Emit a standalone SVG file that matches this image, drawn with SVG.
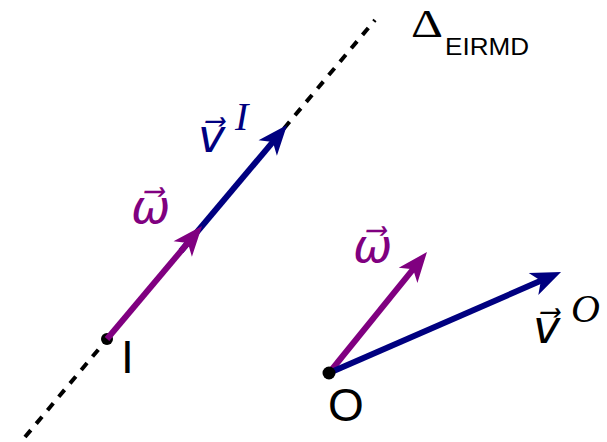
<svg xmlns="http://www.w3.org/2000/svg" width="607" height="442" viewBox="0 0 607 442">
  <style>
    .axis { stroke: #000; stroke-width: 4; stroke-dasharray: 9 8.5; fill: none; }
    .vec { stroke-width: 6; fill: none; }
    .purple { stroke: #800080; }
    .blue { stroke: #000080; }
    .sans { font-family: "Liberation Sans", Arial, sans-serif; fill: #000; }
    .math { font-family: "DejaVu Sans", "Liberation Serif", serif; font-style: italic; }
    .sup { font-family: "Liberation Serif", "Times New Roman", serif; font-style: italic; }
    .cp { fill: #800080; }
    .cb { fill: #000080; }
    .ck { fill: #000; }
  </style>
  <defs>
    <marker id="headP" markerUnits="userSpaceOnUse" orient="auto" refX="0" refY="0" markerWidth="40" markerHeight="30" viewBox="-12 -15 40 30" overflow="visible">
      <path d="M19,0 L-11,-12 L-3,0 L-11,12 Z" fill="#800080"/>
    </marker>
    <marker id="headB" markerUnits="userSpaceOnUse" orient="auto" refX="0" refY="0" markerWidth="40" markerHeight="30" viewBox="-12 -15 40 30" overflow="visible">
      <path d="M19,0 L-11,-12 L-3,0 L-11,12 Z" fill="#000080"/>
    </marker>
  </defs>

  <g id="axis-EIRMD">
    <line class="axis" x1="25" y1="437" x2="375" y2="20"/>
  </g>

  <g id="point-I">
    <circle cx="107" cy="339" r="6" fill="#000"/>
  </g>

  <g id="connectors">
    <line id="vec-vI" class="vec blue" x1="181" y1="251" x2="274.8" y2="139.6" marker-end="url(#headB)"/>
    <line id="vec-omega-I" class="vec purple" x1="107" y1="339" x2="189.8" y2="240.6" marker-end="url(#headP)"/>
    <line id="vec-omega-O" class="vec purple" x1="329" y1="373" x2="415" y2="266.8" marker-end="url(#headP)"/>
    <line id="vec-vO" class="vec blue" x1="329" y1="373" x2="543.6" y2="279.6" marker-end="url(#headB)"/>
  </g>

  <g id="point-O">
    <circle cx="329" cy="373" r="6.5" fill="#000"/>
  </g>

  <g id="labels">
    <text class="sans" x="121" y="373" font-size="46">I</text>
    <text class="sans" x="328" y="421" font-size="46">O</text>
    <g id="label-delta">
      <text x="411" y="36.5" font-family="Liberation Serif, serif" font-size="41" textLength="32" lengthAdjust="spacingAndGlyphs" fill="#000">Δ</text>
      <text class="sans" x="445" y="55" font-size="24.5" textLength="84" lengthAdjust="spacingAndGlyphs">EIRMD</text>
    </g>
    <g id="label-vI">
      <text class="math cb" font-size="46"><tspan x="198" y="152">v⃗</tspan><tspan class="sup" x="235" y="130" font-size="40">I</tspan></text>
    </g>
    <g id="label-omega-I">
      <text class="math cp" font-size="47" x="131" y="223">ω⃗</text>
    </g>
    <g id="label-omega-O">
      <text class="math cp" font-size="47" x="353" y="262">ω⃗</text>
    </g>
    <g id="label-vO">
      <text class="math ck" font-size="46"><tspan x="533" y="343">v⃗</tspan><tspan class="sup" x="571" y="322" font-size="40">O</tspan></text>
    </g>
  </g>
</svg>
